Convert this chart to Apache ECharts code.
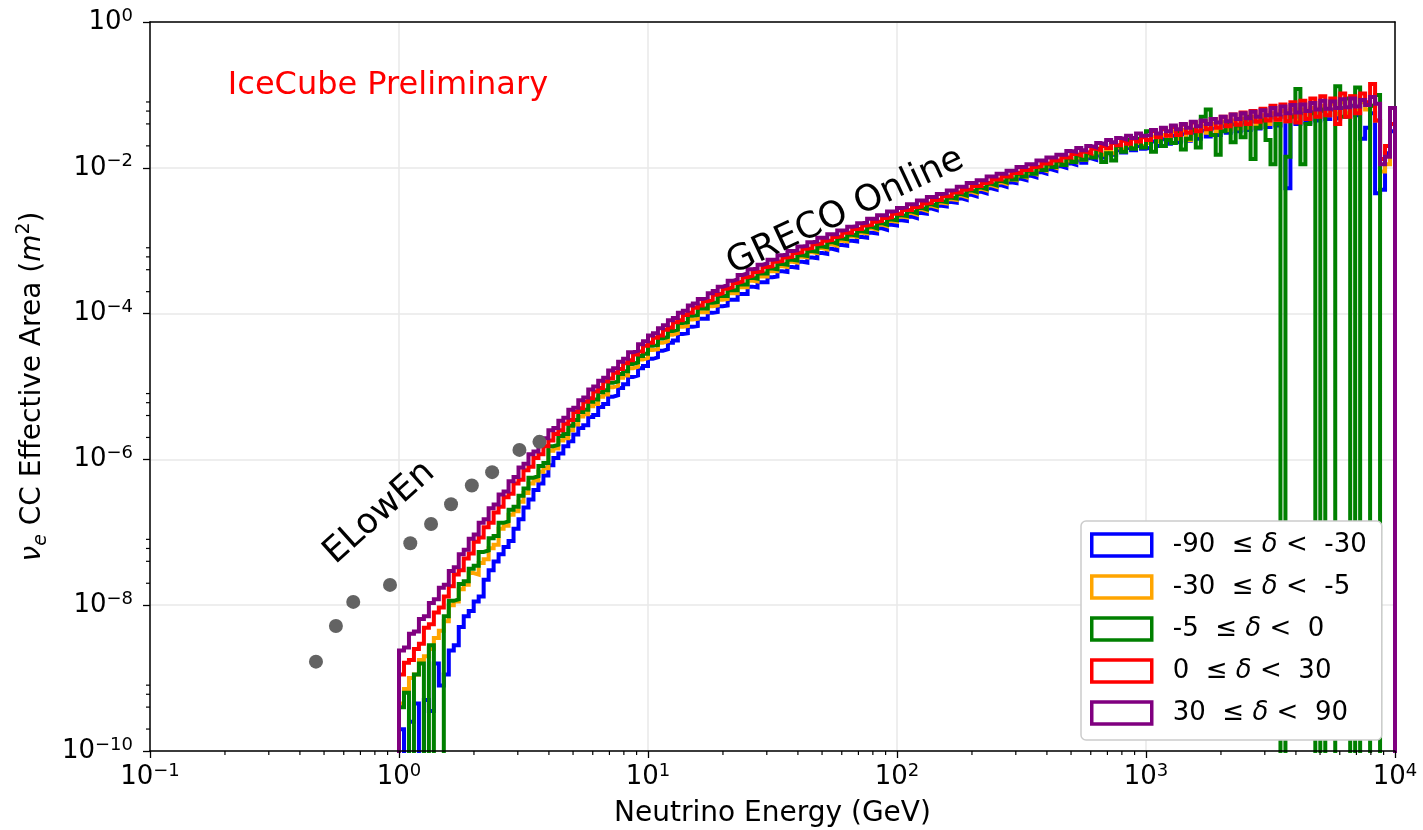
<!DOCTYPE html>
<html>
<head>
<meta charset="utf-8">
<script src="https://cdn.jsdelivr.net/npm/echarts@6/dist/echarts.min.js"></script>
<style>
  html, body { margin: 0; padding: 0; background: #ffffff; overflow: hidden; }
  #chart { width: 1423px; height: 830px; }
</style>
</head>
<body>
<div id="chart"></div>
<script>
// ---- Binning of the effective-area histograms (log-spaced energy bins) ----
const energyMin = 1;          // GeV, first bin edge
const binsPerDecade = 50;     // 4 decades -> 200 bins
const decades = 4;

// ---- nu_e CC effective area per energy bin, stored as log10(A_eff / m^2) ----
// null marks an empty bin (zero effective area). Ten bins per row.
const logAreaM90toM30 = [
  -9.70, null, -9.60, -9.35, null, -9.30, -9.45, -8.80, -9.10, -8.95,
  -8.62, -8.55, -8.30, -8.15, -8.08, -7.95, -7.88, -7.65, -7.52, -7.40,
  -7.30, -7.20, -7.12, -6.95, -6.82, -6.66, -6.55, -6.42, -6.33, -6.22,
  -6.08, -5.98, -5.92, -5.82, -5.75, -5.66, -5.57, -5.53, -5.42, -5.39,
  -5.28, -5.24, -5.14, -5.12, -5.02, -4.97, -4.87, -4.85, -4.75, -4.72,
  -4.62, -4.60, -4.51, -4.49, -4.40, -4.37, -4.28, -4.27, -4.18, -4.17,
  -4.07, -4.07, -3.99, -3.98, -3.90, -3.89, -3.81, -3.81, -3.73, -3.73,
  -3.63, -3.64, -3.57, -3.57, -3.50, -3.49, -3.42, -3.43, -3.36, -3.37,
  -3.29, -3.30, -3.23, -3.24, -3.17, -3.18, -3.11, -3.13, -3.06, -3.07,
  -3.00, -3.01, -2.95, -2.96, -2.89, -2.90, -2.83, -2.85, -2.78, -2.79,
  -2.72, -2.73, -2.67, -2.69, -2.62, -2.63, -2.56, -2.58, -2.52, -2.53,
  -2.47, -2.48, -2.42, -2.44, -2.37, -2.39, -2.33, -2.35, -2.28, -2.30,
  -2.24, -2.26, -2.20, -2.21, -2.15, -2.17, -2.11, -2.13, -2.06, -2.08,
  -2.02, -2.04, -1.98, -2.00, -1.94, -1.96, -1.90, -1.93, -1.87, -1.89,
  -1.83, -1.86, -1.79, -1.82, -1.76, -1.79, -1.73, -1.76, -1.70, -1.74,
  -1.72, -1.64, -1.70, -1.61, -1.67, -1.56, -1.65, -1.54, -1.63, -1.52,
  -1.60, -1.49, -1.57, -1.46, -1.55, -1.43, -1.52, -1.40, -1.50, -1.38,
  -1.48, -1.36, -1.46, -1.33, -1.44, -1.31, -1.42, -1.30, -2.28, -1.28,
  -1.40, -1.25, -1.38, -1.22, -1.35, -1.22, -1.33, -1.20, -1.32, -1.18,
  -1.30, -1.15, -1.28, -1.60, -1.45, -1.25, -2.35, -2.30, -1.80, -1.50
];
const logAreaM30toM5 = [
  -9.35, -9.15, -9.00, -8.95, -8.75, -8.70, -8.60, -8.45, -8.35, -8.22,
  -8.00, -7.95, -7.78, -7.72, -7.56, -7.58, -7.42, -7.37, -7.22, -7.17,
  -6.95, -6.91, -6.76, -6.71, -6.58, -6.46, -6.33, -6.29, -6.17, -6.12,
  -5.88, -5.85, -5.74, -5.71, -5.60, -5.52, -5.41, -5.38, -5.27, -5.24,
  -5.14, -5.11, -5.01, -4.99, -4.88, -4.85, -4.75, -4.73, -4.63, -4.61,
  -4.50, -4.49, -4.40, -4.38, -4.29, -4.27, -4.18, -4.17, -4.08, -4.07,
  -3.98, -3.98, -3.90, -3.89, -3.81, -3.80, -3.72, -3.72, -3.64, -3.64,
  -3.55, -3.56, -3.49, -3.49, -3.42, -3.42, -3.35, -3.36, -3.29, -3.30,
  -3.22, -3.23, -3.16, -3.17, -3.10, -3.12, -3.05, -3.07, -3.00, -3.01,
  -2.94, -2.95, -2.89, -2.90, -2.83, -2.85, -2.78, -2.80, -2.73, -2.74,
  -2.67, -2.68, -2.62, -2.64, -2.57, -2.59, -2.52, -2.54, -2.48, -2.49,
  -2.43, -2.44, -2.38, -2.40, -2.33, -2.35, -2.29, -2.31, -2.24, -2.26,
  -2.20, -2.22, -2.16, -2.17, -2.11, -2.13, -2.07, -2.09, -2.02, -2.04,
  -1.98, -2.00, -1.94, -1.96, -1.90, -1.92, -1.86, -1.89, -1.83, -1.85,
  -1.79, -1.82, -1.75, -1.80, -1.72, -1.75, -1.69, -1.73, -1.66, -1.70,
  -1.66, -1.57, -1.64, -1.55, -1.62, -1.50, -1.60, -1.48, -1.62, -1.47,
  -1.55, -1.43, -1.52, -1.40, -1.50, -1.37, -1.48, -1.35, -1.46, -1.33,
  -1.45, -1.30, -1.42, -1.28, -1.40, -1.25, -1.38, -1.22, -1.36, -1.20,
  -1.35, -1.20, -1.32, -1.18, -1.30, -1.15, -1.28, -1.12, -1.26, -1.10,
  -1.25, -1.02, -1.22, -1.10, -1.20, -1.15, -1.35, -2.05, -1.95, -1.40
];
const logAreaM5to0 = [
  -9.40, -9.20, null, -8.95, -8.80, null, -8.55, null, null, -8.15,
  -7.94, -7.92, -7.71, -7.67, -7.50, -7.46, -7.27, -7.25, -7.08, -7.05,
  -6.87, -6.85, -6.69, -6.65, -6.50, -6.40, -6.25, -6.23, -6.09, -6.05,
  -5.82, -5.80, -5.68, -5.65, -5.54, -5.46, -5.35, -5.32, -5.21, -5.18,
  -5.08, -5.05, -4.95, -4.93, -4.83, -4.79, -4.69, -4.67, -4.58, -4.55,
  -4.44, -4.43, -4.34, -4.32, -4.24, -4.22, -4.13, -4.12, -4.03, -4.02,
  -3.93, -3.93, -3.85, -3.84, -3.76, -3.76, -3.68, -3.68, -3.60, -3.60,
  -3.51, -3.52, -3.45, -3.45, -3.38, -3.39, -3.32, -3.33, -3.26, -3.27,
  -3.20, -3.21, -3.14, -3.15, -3.08, -3.09, -3.02, -3.04, -2.97, -2.98,
  -2.92, -2.93, -2.87, -2.88, -2.81, -2.83, -2.76, -2.78, -2.71, -2.72,
  -2.65, -2.66, -2.60, -2.62, -2.55, -2.57, -2.50, -2.52, -2.46, -2.47,
  -2.41, -2.42, -2.36, -2.38, -2.31, -2.33, -2.27, -2.29, -2.22, -2.24,
  -2.18, -2.20, -2.13, -2.16, -2.08, -2.12, -2.04, -2.08, -1.99, -2.03,
  -1.95, -1.99, -1.91, -1.96, -1.87, -1.92, -1.83, -1.89, -1.80, -1.86,
  -1.74, -1.92, -1.80, -1.90, -1.70, -1.78, -1.62, -1.74, -1.60, -1.72,
  -1.50, -1.78, -1.58, -1.70, -1.62, -1.66, -1.52, -1.75, -1.60, -1.48,
  -1.72, -1.30, -1.20, -1.55, -1.82, -1.50, -1.38, -1.65, -1.42, -1.58,
  -1.30, -1.88, -1.45, -1.35, -1.62, -1.95, -1.40, null, -1.85, -1.30,
  -0.92, -1.95, -1.40, -1.25, null, -1.20, null, null, -0.88, -1.30,
  -1.05, null, -0.90, null, null, -1.15, -1.00, null, null, null
];
const logArea0to30 = [
  -8.95, -8.79, -8.75, -8.60, -8.53, -8.31, -8.26, -8.10, -8.03, -7.88,
  -7.74, -7.58, -7.52, -7.36, -7.29, -7.13, -7.07, -6.93, -6.87, -6.73,
  -6.65, -6.52, -6.47, -6.33, -6.28, -6.15, -6.10, -5.98, -5.93, -5.82,
  -5.74, -5.65, -5.60, -5.51, -5.46, -5.35, -5.30, -5.21, -5.16, -5.07,
  -5.02, -4.93, -4.89, -4.81, -4.76, -4.68, -4.64, -4.56, -4.52, -4.44,
  -4.40, -4.33, -4.30, -4.22, -4.19, -4.12, -4.09, -4.02, -3.99, -3.92,
  -3.89, -3.83, -3.81, -3.74, -3.72, -3.66, -3.64, -3.58, -3.56, -3.50,
  -3.48, -3.43, -3.42, -3.36, -3.35, -3.29, -3.28, -3.23, -3.22, -3.17,
  -3.16, -3.11, -3.10, -3.05, -3.04, -3.00, -2.99, -2.95, -2.94, -2.89,
  -2.89, -2.84, -2.84, -2.79, -2.78, -2.74, -2.73, -2.69, -2.68, -2.63,
  -2.63, -2.58, -2.58, -2.54, -2.53, -2.49, -2.48, -2.44, -2.44, -2.39,
  -2.39, -2.34, -2.34, -2.30, -2.29, -2.25, -2.25, -2.21, -2.20, -2.16,
  -2.16, -2.12, -2.12, -2.07, -2.07, -2.03, -2.03, -1.99, -1.98, -1.94,
  -1.94, -1.90, -1.90, -1.86, -1.86, -1.81, -1.83, -1.78, -1.80, -1.74,
  -1.76, -1.70, -1.73, -1.66, -1.69, -1.63, -1.67, -1.60, -1.64, -1.58,
  -1.62, -1.50, -1.58, -1.47, -1.56, -1.44, -1.55, -1.41, -1.52, -1.38,
  -1.50, -1.36, -1.47, -1.33, -1.45, -1.30, -1.43, -1.27, -1.41, -1.24,
  -1.40, -1.22, -1.37, -1.19, -1.35, -1.15, -1.34, -1.13, -1.36, -1.10,
  -1.38, -1.08, -1.33, -1.05, -1.30, -1.02, -1.28, -1.05, -1.40, -0.98,
  -1.30, -1.02, -1.25, -0.98, -1.10, -0.85, -1.35, -1.88, -1.70, -1.40
];
const logArea30to90 = [
  -8.62, -8.58, -8.39, -8.36, -8.19, -8.15, -7.97, -7.92, -7.76, -7.72,
  -7.53, -7.48, -7.30, -7.24, -7.09, -7.03, -6.87, -6.82, -6.67, -6.62,
  -6.48, -6.44, -6.30, -6.24, -6.11, -6.06, -5.93, -5.89, -5.77, -5.71,
  -5.60, -5.57, -5.47, -5.43, -5.32, -5.29, -5.19, -5.15, -5.04, -5.00,
  -4.92, -4.88, -4.78, -4.75, -4.66, -4.62, -4.53, -4.51, -4.42, -4.38,
  -4.30, -4.27, -4.20, -4.16, -4.09, -4.06, -3.99, -3.96, -3.89, -3.86,
  -3.80, -3.78, -3.72, -3.69, -3.63, -3.61, -3.55, -3.53, -3.47, -3.45,
  -3.39, -3.38, -3.33, -3.31, -3.26, -3.25, -3.20, -3.19, -3.14, -3.13,
  -3.08, -3.07, -3.02, -3.01, -2.96, -2.96, -2.91, -2.91, -2.86, -2.85,
  -2.81, -2.80, -2.76, -2.75, -2.70, -2.70, -2.65, -2.65, -2.60, -2.59,
  -2.55, -2.54, -2.50, -2.50, -2.45, -2.45, -2.40, -2.40, -2.36, -2.35,
  -2.31, -2.30, -2.26, -2.26, -2.21, -2.21, -2.17, -2.17, -2.12, -2.12,
  -2.08, -2.08, -2.04, -2.03, -1.99, -1.99, -1.95, -1.95, -1.90, -1.90,
  -1.86, -1.86, -1.82, -1.82, -1.77, -1.78, -1.73, -1.76, -1.70, -1.72,
  -1.66, -1.68, -1.62, -1.65, -1.59, -1.61, -1.56, -1.59, -1.53, -1.56,
  -1.55, -1.48, -1.53, -1.45, -1.50, -1.42, -1.47, -1.40, -1.45, -1.37,
  -1.43, -1.35, -1.40, -1.33, -1.38, -1.30, -1.36, -1.27, -1.33, -1.25,
  -1.32, -1.23, -1.30, -1.21, -1.28, -1.18, -1.27, -1.16, -1.25, -1.14,
  -1.24, -1.13, -1.22, -1.11, -1.20, -1.08, -1.19, -1.09, -1.18, -1.06,
  -1.17, -1.05, -1.16, -1.07, -1.14, -1.03, -1.12, -1.95, -1.85, -1.18
];

// ---- ELowEn effective area points ----
const elowenEnergy = [0.464, 0.558, 0.655, 0.920, 1.110, 1.345, 1.618, 1.961, 2.366, 3.046, 3.665];
const elowenArea   = [1.68e-9, 5.19e-9, 1.11e-8, 1.90e-8, 7.08e-8, 1.30e-7, 2.43e-7, 4.38e-7, 6.68e-7, 1.35e-6, 1.74e-6];

// ---- Declination bands (legend) ----
const bandLow  = ['-90', '-30', '-5', '0', '30'];
const bandHigh = ['-30', '-5', '0', '30', '90'];
const bandColors = ['#0000ff', '#ffa500', '#008000', '#ff0000', '#800080'];
const bandAreas = [logAreaM90toM30, logAreaM30toM5, logAreaM5to0, logArea0to30, logArea30to90];

// ---- Axis ranges and minor tick values ----
const xRange = [0.1, 1e4];
const yRange = [1e-10, 1];
const xMinorTicks = [];
[0.1, 1, 10, 100, 1000].forEach(d => { for (let m = 2; m <= 9; m++) xMinorTicks.push(m * d); });
const yMinorTicks = [];
[1e-10, 1e-8, 1e-6, 1e-4, 1e-2].forEach(d => { [2, 4, 6, 8].forEach(m => yMinorTicks.push(m * d)); });

const FONT = 'DejaVu Sans';
const FLOOR = 1e-14;   // stands in for an empty bin; lies below the axis and is clipped

const nBins = binsPerDecade * decades;
const binEdges = [];
for (let k = 0; k <= nBins; k++) binEdges.push(energyMin * Math.pow(10, k / binsPerDecade));

// Outline of a step histogram: rise from the floor at the first edge,
// flat tops over each bin, drop back to the floor at the last edge.
function stepOutline(logVals) {
  const pts = [[binEdges[0], FLOOR]];
  logVals.forEach((v, k) => {
    const a = v === null ? FLOOR : Math.pow(10, v);
    pts.push([binEdges[k], a], [binEdges[k + 1], a]);
  });
  pts.push([binEdges[nBins], FLOOR]);
  return pts;
}

function bandName(i) { return bandLow[i] + ' \u2264 \u03b4 < ' + bandHigh[i]; }

function powLabel(v) {
  const e = Math.round(Math.log10(v));
  return '{b|10}{s|' + (e < 0 ? '\u2212' : '') + Math.abs(e) + '}';
}
const powRich = {
  b: { fontFamily: FONT, fontSize: 26, lineHeight: 30, color: '#000' },
  s: { fontFamily: FONT, fontSize: 18, lineHeight: 14, verticalAlign: 'top', color: '#000' }
};

const histSeries = bandAreas.map((vals, i) => ({
  name: bandName(i),
  type: 'line',
  xAxisIndex: 0, yAxisIndex: 0,
  data: stepOutline(vals),
  showSymbol: false, symbol: 'none',
  clip: true,
  lineStyle: { color: bandColors[i], width: 4, join: 'miter' },
  itemStyle: { color: bandColors[i] },
  z: 2 + i * 0.01,
  animation: false
}));

const elowenSeries = {
  name: 'ELowEn',
  type: 'scatter',
  xAxisIndex: 0, yAxisIndex: 0,
  data: elowenEnergy.map((e, i) => [e, elowenArea[i]]),
  symbolSize: 14,
  itemStyle: { color: '#636363', opacity: 1 },
  z: 4,
  animation: false
};

// Text annotations placed in data coordinates
const notes = [
  { text: 'IceCube Preliminary', at: [0.903, 0.135], rotate: 0, color: '#ff0000', size: 32 },
  { text: 'GRECO Online', at: [62.1, 2.51e-3], rotate: 25, color: '#000000', size: 36 },
  { text: 'ELowEn', at: [0.835, 1.85e-7], rotate: 42, color: '#000000', size: 35 }
];
const noteSeries = {
  type: 'scatter',
  xAxisIndex: 0, yAxisIndex: 0,
  silent: true,
  symbolSize: 1,
  itemStyle: { color: 'rgba(0,0,0,0)', opacity: 1 },
  z: 6,
  animation: false,
  data: notes.map(n => ({
    value: n.at,
    label: {
      show: true, position: 'inside', formatter: n.text, rotate: n.rotate,
      color: n.color, opacity: 1, textBorderWidth: 0,
      fontFamily: FONT, fontSize: n.size,
      align: 'center', verticalAlign: 'middle'
    }
  }))
};

// Minor ticks drawn through the axis scales
const minorTickSeriesX = {
  type: 'custom', xAxisIndex: 0, yAxisIndex: 0, silent: true, clip: false, z: 11,
  data: xMinorTicks.map(v => [v, yRange[0]]),
  encode: { x: 0, y: 1 },
  renderItem: (params, api) => {
    const p = api.coord([api.value(0), yRange[0]]);
    return { type: 'line', shape: { x1: p[0], y1: p[1], x2: p[0], y2: p[1] + 4 },
             style: { stroke: '#000', lineWidth: 1.2 } };
  },
  animation: false
};
const minorTickSeriesY = {
  type: 'custom', xAxisIndex: 0, yAxisIndex: 0, silent: true, clip: false, z: 11,
  data: yMinorTicks.map(v => [xRange[0], v]),
  encode: { x: 0, y: 1 },
  renderItem: (params, api) => {
    const p = api.coord([xRange[0], api.value(1)]);
    return { type: 'line', shape: { x1: p[0], y1: p[1], x2: p[0] - 4, y2: p[1] },
             style: { stroke: '#000', lineWidth: 1.2 } };
  },
  animation: false
};

const chart = echarts.init(document.getElementById('chart'), null, { renderer: 'canvas' });

chart.setOption({
  backgroundColor: '#ffffff',
  animation: false,
  textStyle: { fontFamily: FONT },
  grid: { left: 150, top: 22, width: 1245, height: 729, containLabel: false, outerBoundsMode: 'none' },
  xAxis: [
    {
      type: 'log', logBase: 10, min: xRange[0], max: xRange[1], position: 'bottom', z: 10,
      splitNumber: 5,
      axisLine: { show: true, lineStyle: { color: '#000', width: 1.5 } },
      axisTick: { show: true, length: 7, lineStyle: { color: '#000', width: 1.3 } },
      axisLabel: { margin: 11, formatter: powLabel, rich: powRich },
      splitLine: { show: false },
      name: 'Neutrino Energy (GeV)', nameLocation: 'middle', nameGap: 46,
      nameTextStyle: { fontFamily: FONT, fontSize: 28, lineHeight: 34, color: '#000' }
    },
    {
      type: 'log', logBase: 10, min: xRange[0], max: xRange[1], position: 'top', z: 0,
      splitNumber: 5,
      axisLine: { show: true, lineStyle: { color: '#000', width: 1.5 } },
      axisTick: { show: false }, axisLabel: { show: false },
      splitLine: { show: true, lineStyle: { color: '#e8e8e8', width: 1.5 } }
    }
  ],
  yAxis: [
    {
      type: 'log', logBase: 10, min: yRange[0], max: yRange[1], position: 'left', z: 10,
      interval: 2,
      axisLine: { show: true, lineStyle: { color: '#000', width: 1.5 } },
      axisTick: { show: true, length: 7, lineStyle: { color: '#000', width: 1.3 } },
      axisLabel: { margin: 17, formatter: powLabel, rich: powRich },
      splitLine: { show: false },
      name: '{i|\u03bd}{sub|e}{t| CC Effective Area (}{i|m}{sup|2}{t|)}',
      nameLocation: 'middle', nameRotate: 90, nameGap: 93,
      nameTextStyle: {
        color: '#000',
        rich: {
          t: { fontFamily: FONT, fontSize: 28, lineHeight: 36, color: '#000' },
          i: { fontFamily: FONT, fontSize: 28, fontStyle: 'italic', lineHeight: 36, color: '#000' },
          sub: { fontFamily: FONT, fontSize: 19, fontStyle: 'italic', lineHeight: 18, verticalAlign: 'bottom', color: '#000' },
          sup: { fontFamily: FONT, fontSize: 19, lineHeight: 18, verticalAlign: 'top', color: '#000' }
        }
      }
    },
    {
      type: 'log', logBase: 10, min: yRange[0], max: yRange[1], position: 'right', z: 0,
      interval: 2,
      axisLine: { show: true, lineStyle: { color: '#000', width: 1.5 } },
      axisTick: { show: false }, axisLabel: { show: false },
      splitLine: { show: true, lineStyle: { color: '#e8e8e8', width: 1.5 } }
    }
  ],
  legend: {
    orient: 'vertical',
    left: 1081, top: 521,
    padding: [11, 15, 14, 9],
    backgroundColor: '#ffffff',
    borderColor: '#cccccc', borderWidth: 1.5, borderRadius: 5,
    itemWidth: 60, itemHeight: 22, itemGap: 16,
    icon: 'rect',
    data: bandLow.map((_, i) => ({
      name: bandName(i),
      icon: 'rect',
      itemStyle: { color: 'rgba(255,255,255,0)', borderColor: bandColors[i], borderWidth: 3.5 }
    })),
    formatter: name => {
      const i = bandLow.findIndex((_, j) => bandName(j) === name);
      return '{a|' + bandLow[i] + '  \u2264 }{d|\u03b4}{n| <  ' + bandHigh[i] + '}';
    },
    textStyle: {
      rich: {
        a: { fontFamily: FONT, fontSize: 26, lineHeight: 22, color: '#000', padding: [0, 0, 0, 16] },
        d: { fontFamily: FONT, fontSize: 26, lineHeight: 22, fontStyle: 'italic', color: '#000' },
        n: { fontFamily: FONT, fontSize: 26, lineHeight: 22, color: '#000' }
      }
    },
    selectedMode: false
  },
  series: [...histSeries, elowenSeries, noteSeries, minorTickSeriesX, minorTickSeriesY]
});
</script>
</body>
</html>
